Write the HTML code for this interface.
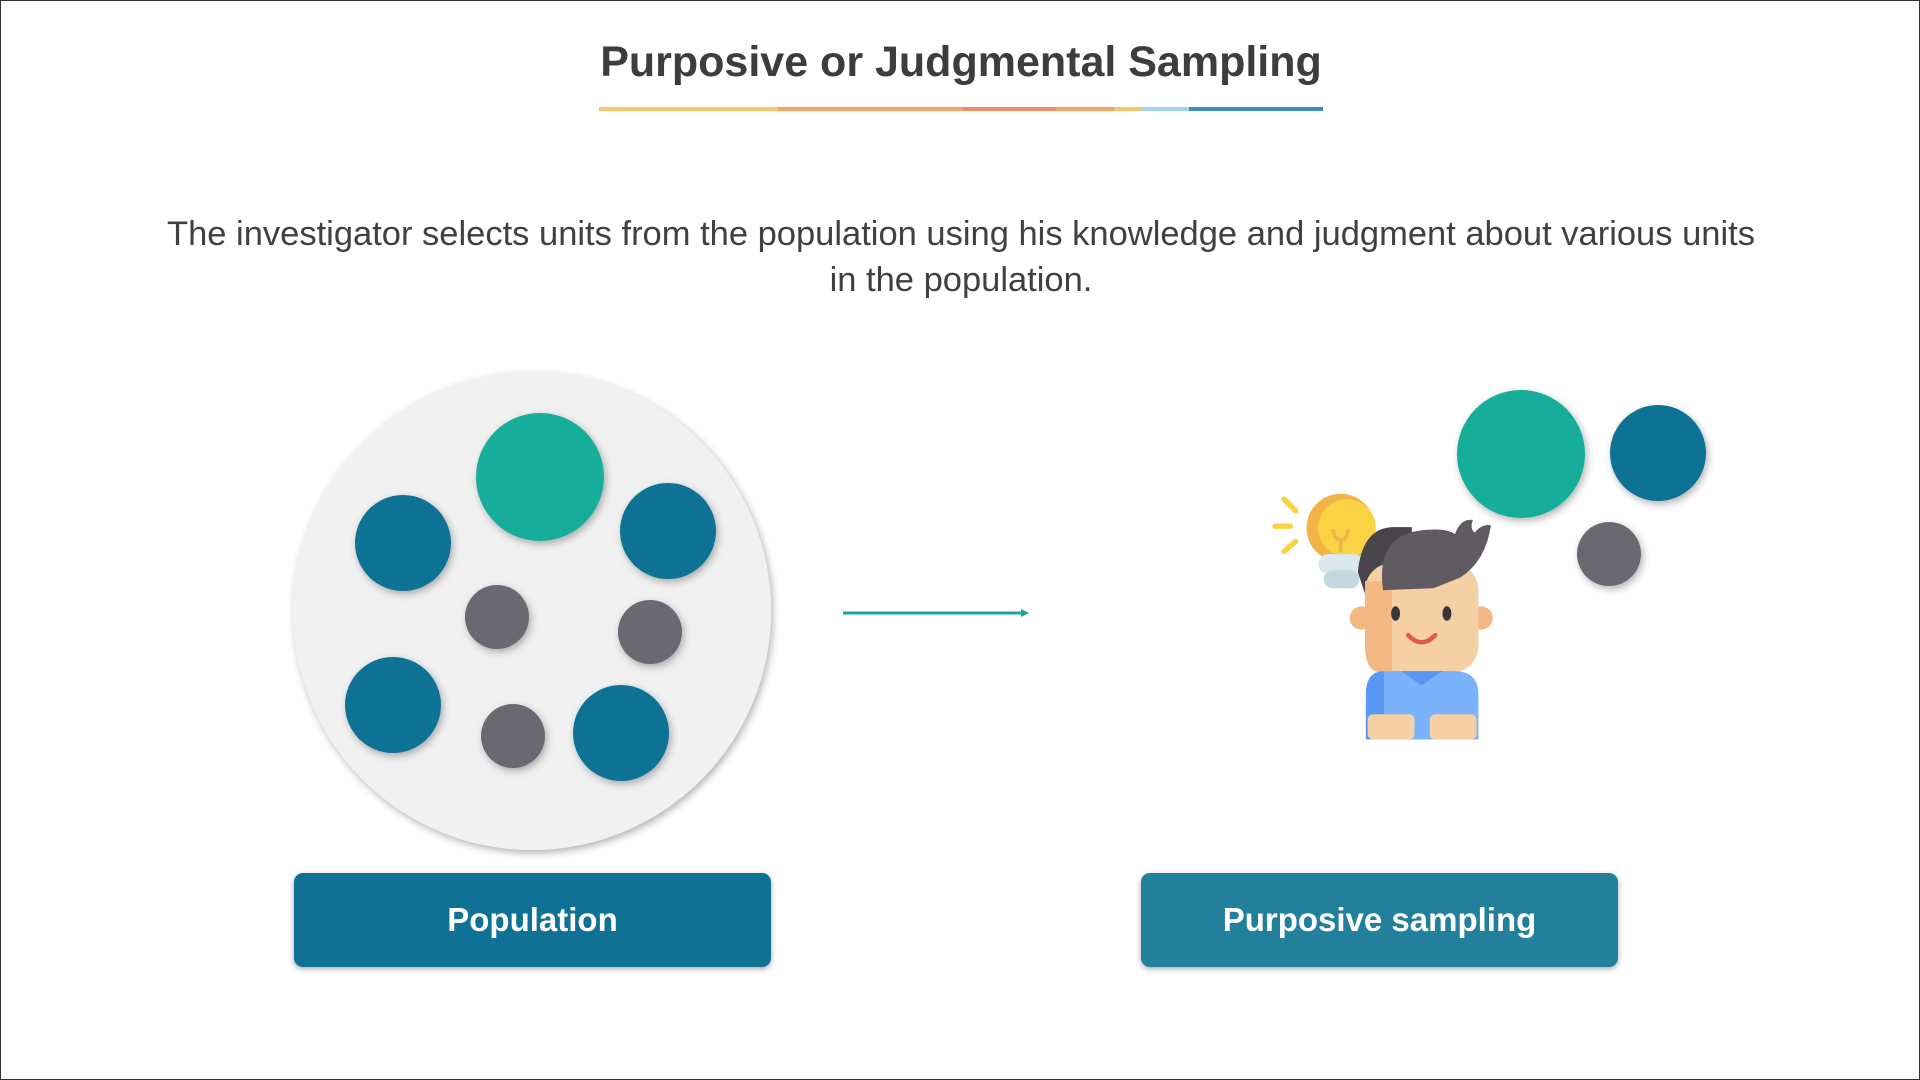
<!DOCTYPE html>
<html><head><meta charset="utf-8"><style>
html,body{margin:0;padding:0;background:#fff}
#page{position:relative;width:1920px;height:1080px;overflow:hidden;font-family:"Liberation Sans",sans-serif;box-sizing:border-box;border:1px solid #333}
.title{position:absolute;left:0;width:1920px;top:37px;text-align:center;font-weight:bold;font-size:43px;color:#3d3d3d}
.desc{position:absolute;left:157px;width:1606px;top:210px;text-align:center;font-size:34.5px;line-height:46px;color:#404040}
.btn{position:absolute;top:872px;height:94px;width:477px;border-radius:9px;color:#fff;font-weight:bold;font-size:33px;display:flex;align-items:center;justify-content:center;box-shadow:0 2px 6px rgba(0,0,0,.35)}
</style></head><body>
<div id="page">
<div class="title">Purposive or Judgmental Sampling</div>
<svg width="1920" height="1080" style="position:absolute;left:0;top:0">
<defs><filter id="sh" x="-30%" y="-30%" width="160%" height="160%"><feDropShadow dx="2" dy="3" stdDeviation="4" flood-color="#000" flood-opacity="0.3"/></filter></defs>
<g>
<rect x="598" y="106" width="179" height="4" fill="#fcc46c"/>
<rect x="777" y="106" width="185" height="4" fill="#f5a466"/>
<rect x="962" y="106" width="93" height="4" fill="#f28a6c"/>
<rect x="1055" y="106" width="58" height="4" fill="#f5a466"/>
<rect x="1113" y="106" width="28" height="4" fill="#fcc46c"/>
<rect x="1141" y="106" width="47" height="4" fill="#a2d6ec"/>
<rect x="1188" y="106" width="134" height="4" fill="#3b8dbf"/>
</g>
<circle cx="531" cy="610" r="239" fill="#f1f1f1" filter="url(#sh)"/>
<g filter="url(#sh)">
<circle cx="539" cy="476" r="64" fill="#19ae9a"/>
<circle cx="402" cy="542" r="48" fill="#0f7294"/>
<circle cx="667" cy="530" r="48" fill="#0f7294"/>
<circle cx="496" cy="616" r="32" fill="#6b6770"/>
<circle cx="649" cy="631" r="32" fill="#6b6770"/>
<circle cx="392" cy="704" r="48" fill="#0f7294"/>
<circle cx="512" cy="735" r="32" fill="#6b6770"/>
<circle cx="620" cy="732" r="48" fill="#0f7294"/>
</g>
<g>
<line x1="842" y1="612" x2="1022" y2="612" stroke="#1aa596" stroke-width="3"/>
<polygon points="1028,612 1020,608 1020,616" fill="#1aa596"/>
</g>
<g filter="url(#sh)">
<circle cx="1520" cy="453" r="64" fill="#19ae9a"/>
<circle cx="1657" cy="452" r="48" fill="#0f7294"/>
<circle cx="1608" cy="553" r="32" fill="#6b6770"/>
</g>
<g transform="translate(1418 491) scale(0.9) translate(-1420 -491)">
<g stroke="#f9d343" stroke-width="6" stroke-linecap="round">
<line x1="1270" y1="499" x2="1283" y2="512"/><line x1="1260" y1="529" x2="1277" y2="529"/><line x1="1270" y1="557" x2="1283" y2="546"/>
</g>
<circle cx="1333" cy="531" r="38" fill="#f0b447"/>
<circle cx="1340" cy="531" r="32" fill="#f9d343"/>
<path d="M1325 532 q0 12 8 12 q8 0 8 -12 M1333 544 v14" stroke="#f0b447" stroke-width="4" fill="none"/>
<rect x="1308" y="560" width="50" height="22" rx="11" fill="#dbe8ef"/>
<rect x="1314" y="578" width="40" height="20" rx="10" fill="#c4d8df"/>
<path d="M1352 580 q5 -50 40 -50 l20 0 l0 70 l-50 10 z" fill="#48444a"/>
<circle cx="1356" cy="631" r="13" fill="#f3b984"/>
<circle cx="1489" cy="631" r="13" fill="#f3b984"/>
<rect x="1360" y="570" width="126" height="122" rx="30" fill="#f5d0a4"/>
<path d="M1360 590 h30 v102 h-10 q-20 0 -20 -30 z" fill="#f3b984"/>
<path d="M1380 600 q-8 -60 40 -66 q30 -4 40 4 q6 -18 20 -16 q-4 10 2 14 q8 -10 18 -8 q-6 40 -34 58 q-10 4 -30 12 z" fill="#5f5b61"/>
<ellipse cx="1394" cy="626" rx="5" ry="8" fill="#3a3539"/>
<ellipse cx="1451" cy="626" rx="5" ry="8" fill="#3a3539"/>
<path d="M1408 650 q15 16 30 0" stroke="#e05a4a" stroke-width="5" fill="none" stroke-linecap="round"/>
<path d="M1361 766 v-50 q0 -26 26 -26 h72 q27 0 27 26 v50 z" fill="#7ab3fb"/>
<path d="M1361 766 v-50 q0 -26 20 -26 v76 z" fill="#5a97f5"/>
<path d="M1400 690 l23 16 l23 -16 z" fill="#5a97f5"/>
<rect x="1363" y="738" width="52" height="28" rx="6" fill="#f5d0a4"/>
<rect x="1432" y="738" width="52" height="28" rx="6" fill="#f5d0a4"/>
</g>
</svg>
<div class="desc">The investigator selects units from the population using his knowledge and judgment about various units in the population.</div>
<div class="btn" style="left:293px;background:#0f7294">Population</div>
<div class="btn" style="left:1140px;background:#23809c">Purposive sampling</div>
</div>
</body></html>
